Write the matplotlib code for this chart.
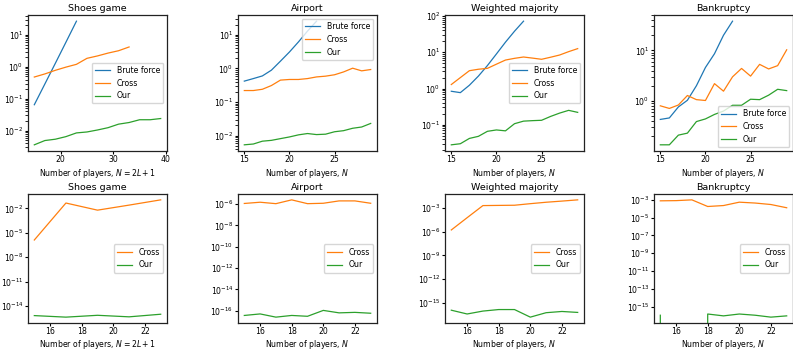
#!/usr/bin/env python
# runtime and error of brute force / cross / our method for four games

import numpy as np
import matplotlib.pyplot as plt

# ---- top row: runtime ----
shoes_n_bf = [15, 17, 19, 21, 23]
shoes_bf = [0.065, 0.29, 1.3, 5.9, 27]
shoes_n_cross = [15, 17, 19, 21, 23, 25, 27, 29, 31, 33]
shoes_cross = [0.48, 0.6, 0.78, 0.98, 1.2, 1.85, 2.2, 2.7, 3.2, 4.2]
shoes_n_our = [15, 17, 19, 21, 23, 25, 27, 29, 31, 33, 35, 37, 39]
shoes_our = [0.0036, 0.0049, 0.0054, 0.0065, 0.0085, 0.0091, 0.0105,
             0.0124, 0.016, 0.018, 0.022, 0.022, 0.024]

n_bf = list(range(15, 24))
n_all = list(range(15, 30))

air_bf = [0.42, 0.50, 0.60, 0.89, 1.65, 3.1, 6.2, 13, 25.7]
air_cross = [0.22, 0.22, 0.24, 0.31, 0.45, 0.47, 0.47, 0.5, 0.56, 0.59,
             0.65, 0.79, 1.02, 0.85, 0.93]
air_our = [0.0053, 0.0056, 0.0068, 0.0072, 0.0081, 0.0091, 0.0105, 0.0115,
           0.0107, 0.011, 0.013, 0.014, 0.0165, 0.018, 0.023]

wm_bf = [0.84, 0.77, 1.23, 2.2, 4.3, 9, 19, 38, 72]
wm_cross = [1.29, 2.0, 3.1, 3.4, 3.6, 4.7, 6.1, 6.8, 7.4, 6.9, 6.4, 7.3,
            8.4, 10.4, 12.6]
wm_our = [0.028, 0.030, 0.042, 0.048, 0.066, 0.072, 0.068, 0.107, 0.126,
          0.13, 0.133, 0.17, 0.21, 0.25, 0.22]

bank_bf = [0.43, 0.46, 0.76, 1.03, 2.0, 4.6, 8.6, 20, 38]
bank_cross = [0.8, 0.71, 0.83, 1.28, 1.06, 1.02, 2.2, 1.56, 3.0, 4.4, 3.1,
              5.3, 4.3, 5.0, 10.3]
bank_our = [0.135, 0.135, 0.21, 0.23, 0.39, 0.44, 0.54, 0.63, 0.82, 0.82,
            1.08, 1.06, 1.3, 1.7, 1.6]

# ---- bottom row: error ----
shoes_n_err = [15, 17, 19, 21, 23]
shoes_cross_err = [1.3e-6, 0.045, 0.006, 0.025, 0.11]
shoes_our_err = [6.8e-16, 4.4e-16, 7.4e-16, 4.8e-16, 1.0e-15]

n_err = list(range(15, 24))
air_cross_err = [1.15e-6, 1.5e-6, 1.1e-6, 2.5e-6, 1.1e-6, 1.2e-6, 2.0e-6,
                 2.0e-6, 1.2e-6]
air_our_err = [3.6e-17, 5e-17, 2.5e-17, 3.6e-17, 3e-17, 1.07e-16, 6.3e-17,
               7e-17, 5.8e-17]

wm_cross_err = [1.6e-6, 5.6e-5, 1.9e-3, 2.0e-3, 2.1e-3, 3.3e-3, 5e-3,
                7e-3, 1.0e-2]
wm_our_err = [1.2e-16, 4e-17, 9.3e-17, 1.45e-16, 1.45e-16, 1.6e-17,
              5.8e-17, 8.3e-17, 6.3e-17]

bank_cross_err = [7.8e-4, 8.2e-4, 1e-3, 1.8e-4, 2.3e-4, 5.5e-4, 4.4e-4,
                  3e-4, 1.3e-4]
bank_our_err = [1.1e-16, 0, 0, 1.5e-16, 9.3e-17, 1.5e-16, 1.1e-16,
                6.7e-17, 9.3e-17]

C_BF, C_CR, C_OUR = '#1f77b4', '#ff7f0e', '#2ca02c'
FS = 5.6
TS = 6.8
LW = 0.9

plt.rcParams['font.size'] = FS
plt.rcParams['axes.linewidth'] = 0.9
plt.rcParams['axes.edgecolor'] = '#222222'

fig = plt.figure(figsize=(7.93, 3.51), dpi=100)
W, H = 793, 351
lefts = [28, 238, 445, 654]
aw = 139


def mk(i, top, bot):
    return fig.add_axes([lefts[i] / W, 1 - bot / H, aw / W, (bot - top) / H])


top_axes = [mk(i, 15, 151) for i in range(4)]
bot_axes = [mk(i, 194, 323) for i in range(4)]

# top row
ax = top_axes[0]
ax.plot(shoes_n_bf, shoes_bf, color=C_BF, lw=LW, label='Brute force')
ax.plot(shoes_n_cross, shoes_cross, color=C_CR, lw=LW, label='Cross')
ax.plot(shoes_n_our, shoes_our, color=C_OUR, lw=LW, label='Our')
ax.set_title('Shoes game', fontsize=TS, pad=3)
ax.set_xlabel('Number of players, $N = 2L + 1$', labelpad=1.5)
ax.legend(loc='center right', fontsize=FS)

for ax, title, bf, cr, our, loc in [
        (top_axes[1], 'Airport', air_bf, air_cross, air_our, 'upper right'),
        (top_axes[2], 'Weighted majority', wm_bf, wm_cross, wm_our, 'center right'),
        (top_axes[3], 'Bankruptcy', bank_bf, bank_cross, bank_our, 'lower right')]:
    ax.plot(n_bf, bf, color=C_BF, lw=LW, label='Brute force')
    ax.plot(n_all, cr, color=C_CR, lw=LW, label='Cross')
    ax.plot(n_all, our, color=C_OUR, lw=LW, label='Our')
    ax.set_title(title, fontsize=TS, pad=3)
    ax.set_xlabel('Number of players, $N$', labelpad=1.5)
    ax.legend(loc=loc, fontsize=FS)

for ax in top_axes:
    ax.set_yscale('log')

# bottom row
ax = bot_axes[0]
ax.plot(shoes_n_err, shoes_cross_err, color=C_CR, lw=LW, label='Cross')
ax.plot(shoes_n_err, shoes_our_err, color=C_OUR, lw=LW, label='Our')
ax.set_title('Shoes game', fontsize=TS, pad=3)
ax.set_xlabel('Number of players, $N = 2L + 1$', labelpad=1)

for ax, title, cr, our in [
        (bot_axes[1], 'Airport', air_cross_err, air_our_err),
        (bot_axes[2], 'Weighted majority', wm_cross_err, wm_our_err),
        (bot_axes[3], 'Bankruptcy', bank_cross_err, bank_our_err)]:
    ax.plot(n_err, cr, color=C_CR, lw=LW, label='Cross')
    ax.plot(n_err, our, color=C_OUR, lw=LW, label='Our')
    ax.set_title(title, fontsize=TS, pad=3)
    ax.set_xlabel('Number of players, $N$', labelpad=1)

yt = [[1e-2, 1e-5, 1e-8, 1e-11, 1e-14],
      [1e-6, 1e-8, 1e-10, 1e-12, 1e-14, 1e-16],
      [1e-3, 1e-6, 1e-9, 1e-12, 1e-15],
      [1e-3, 1e-5, 1e-7, 1e-9, 1e-11, 1e-13, 1e-15]]
for ax, t in zip(bot_axes, yt):
    ax.set_yscale('log')
    ax.autoscale_view()
    lo, hi = ax.get_ylim()
    ax.set_yticks(t)
    ax.set_ylim(lo, hi)
    ax.set_xticks([16, 18, 20, 22])
    ax.legend(loc='center right', fontsize=FS)

for ax in top_axes + bot_axes:
    ax.tick_params(labelsize=FS, pad=1.2, length=2)

fig.savefig('out.png', dpi=100)
